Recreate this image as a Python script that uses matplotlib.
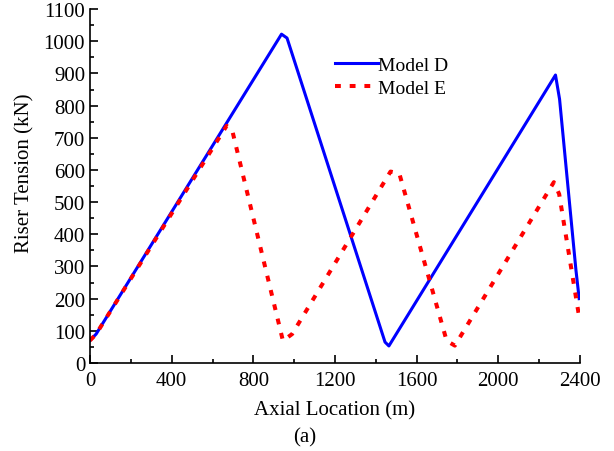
import numpy as np
import matplotlib.pyplot as plt
from matplotlib.ticker import MultipleLocator

plt.rcParams['font.family'] = ['Liberation Serif', 'DejaVu Serif']
plt.rcParams['mathtext.fontset'] = 'stix'

# Model D riser tension along the riser
xD = [0, 30, 938, 965, 1445, 1464, 2280, 2300, 2380, 2396]
yD = [70, 90, 1022, 1010, 65, 53, 895, 820, 290, 200]

# Model E riser tension along the riser
xE = [0, 30, 669, 695, 945, 990, 1472, 1515, 1747, 1787, 2272, 2298, 2396]
yE = [70, 90, 737, 727, 69, 90, 595, 589, 69, 54, 562, 525, 143]

fig = plt.figure(figsize=(6.14, 4.52), dpi=100)
ax = fig.add_axes([0.1466, 0.1947, 0.798, 0.783])

ax.plot(xD, yD, color='#0000ff', lw=2.2, label='Model D')
ax.plot(xE, yE, color='#ff0000', lw=2.9, ls=(0, (1.45, 2.2)), label='Model E')

ax.set_xlim(0, 2400)
ax.set_ylim(0, 1100)
ax.xaxis.set_major_locator(MultipleLocator(400))
ax.xaxis.set_minor_locator(MultipleLocator(200))
ax.yaxis.set_major_locator(MultipleLocator(100))
ax.yaxis.set_minor_locator(MultipleLocator(50))
ax.tick_params(which='both', direction='in', labelsize=15, width=1.2)
ax.tick_params(which='major', length=6)
ax.tick_params(which='minor', length=3)
ax.tick_params(axis='x', pad=6)
ax.spines['top'].set_visible(False)
ax.spines['right'].set_visible(False)
ax.spines['left'].set_linewidth(1.2)
ax.spines['bottom'].set_linewidth(1.2)

ax.set_xlabel('Axial Location (m)', fontsize=15, labelpad=7)
ax.set_ylabel('Riser Tension (kN)', fontsize=15)
ax.yaxis.set_label_coords(-0.113, 0.54)

ax.legend(loc='upper left', bbox_to_anchor=(0.465, 0.915), frameon=False,
          fontsize=14, handlelength=2.2, handletextpad=0.0, labelspacing=0.25)

fig.text(0.497, 0.02, '(a)', fontsize=15, ha='center')

fig.savefig('out.png', dpi=100)
